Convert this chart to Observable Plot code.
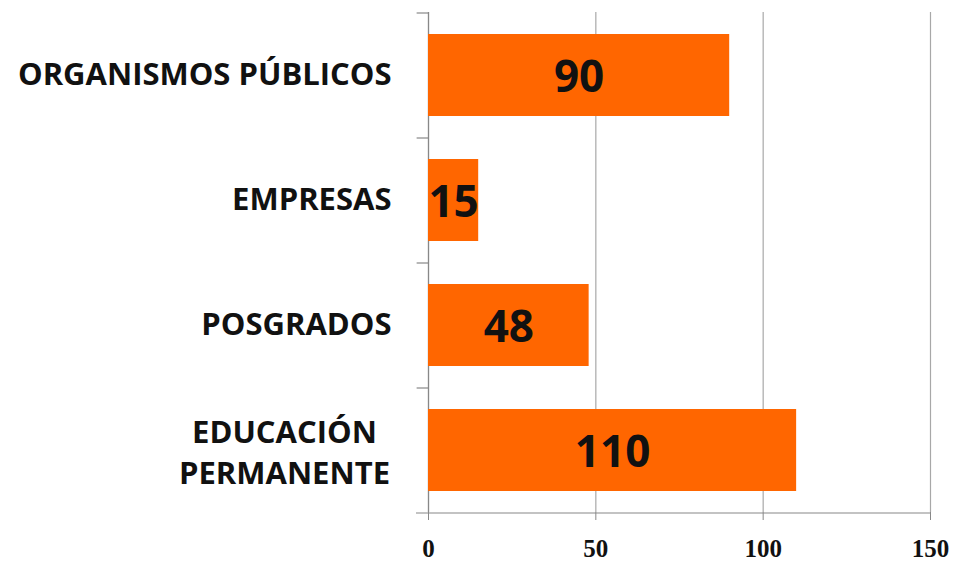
<!DOCTYPE html>
<html>
<head>
<meta charset="utf-8">
<script src="https://cdn.jsdelivr.net/npm/d3@7"></script>
<script src="https://cdn.jsdelivr.net/npm/@observablehq/plot@0.6"></script>
<style>
  html, body { margin: 0; padding: 0; background: #fff; }
  #chart svg { display: block; }
  g[aria-label="x-axis tick label"] text { font-family: "Liberation Serif", serif; font-weight: bold; }
</style>
</head>
<body>
<div id="chart"></div>
<script>
const categories = ["ORGANISMOS PÚBLICOS", "EMPRESAS", "POSGRADOS", "EDUCACIÓN\nPERMANENTE"];
const values = [90, 15, 48, 110];
const xTicks = [0, 50, 100, 150];

const data = categories.map((c, i) => ({category: c, value: values[i]}));
const single = data.filter(d => !d.category.includes("\n"));
const multi = data.filter(d => d.category.includes("\n"));

const chart = Plot.plot({
  width: 953,
  height: 565,
  marginLeft: 428,
  marginRight: 23,
  marginTop: 12,
  marginBottom: 53,
  style: {background: "#fff", fontFamily: "'Open Sans', sans-serif"},
  x: {domain: [0, 150], axis: null},
  y: {domain: categories, paddingInner: 0.344, paddingOuter: 0.172, axis: null},
  marks: [
    Plot.gridX(xTicks, {stroke: "#a8a8a8", strokeOpacity: 1, strokeWidth: 1.2}),
    Plot.ruleX([0], {stroke: "#888", strokeWidth: 1.2}),
    Plot.ruleY(categories, {y: d => d, x1: -3.4, x2: 0, dy: -62.5, stroke: "#888", strokeWidth: 1.2}),
    Plot.ruleY(categories.slice(-1), {y: d => d, x1: -3.6, x2: 150, dy: 62.5, stroke: "#888", strokeWidth: 1.2}),
    Plot.barX(data, {x: "value", y: "category", fill: "#FF6600"}),
    Plot.text(data, {x: d => d.value / 2, y: "category", text: d => String(d.value),
      fontSize: 44, fontWeight: "bold", fill: "#111", dy: 2}),
    Plot.text(single, {x: 0, y: "category", text: "category", textAnchor: "end", dx: -37,
      fontSize: 31, fontWeight: "bold", fill: "#111"}),
    Plot.text(multi, {x: 0, y: "category", text: "category", textAnchor: "middle", dx: -144,
      fontSize: 31, fontWeight: "bold", fill: "#111", lineHeight: 1.32}),
    Plot.axisX(xTicks, {tickSize: 8, tickPadding: 19, fontSize: 25, stroke: "#888", fill: "#111", label: null})
  ]
});
document.getElementById("chart").appendChild(chart);
</script>
</body>
</html>
